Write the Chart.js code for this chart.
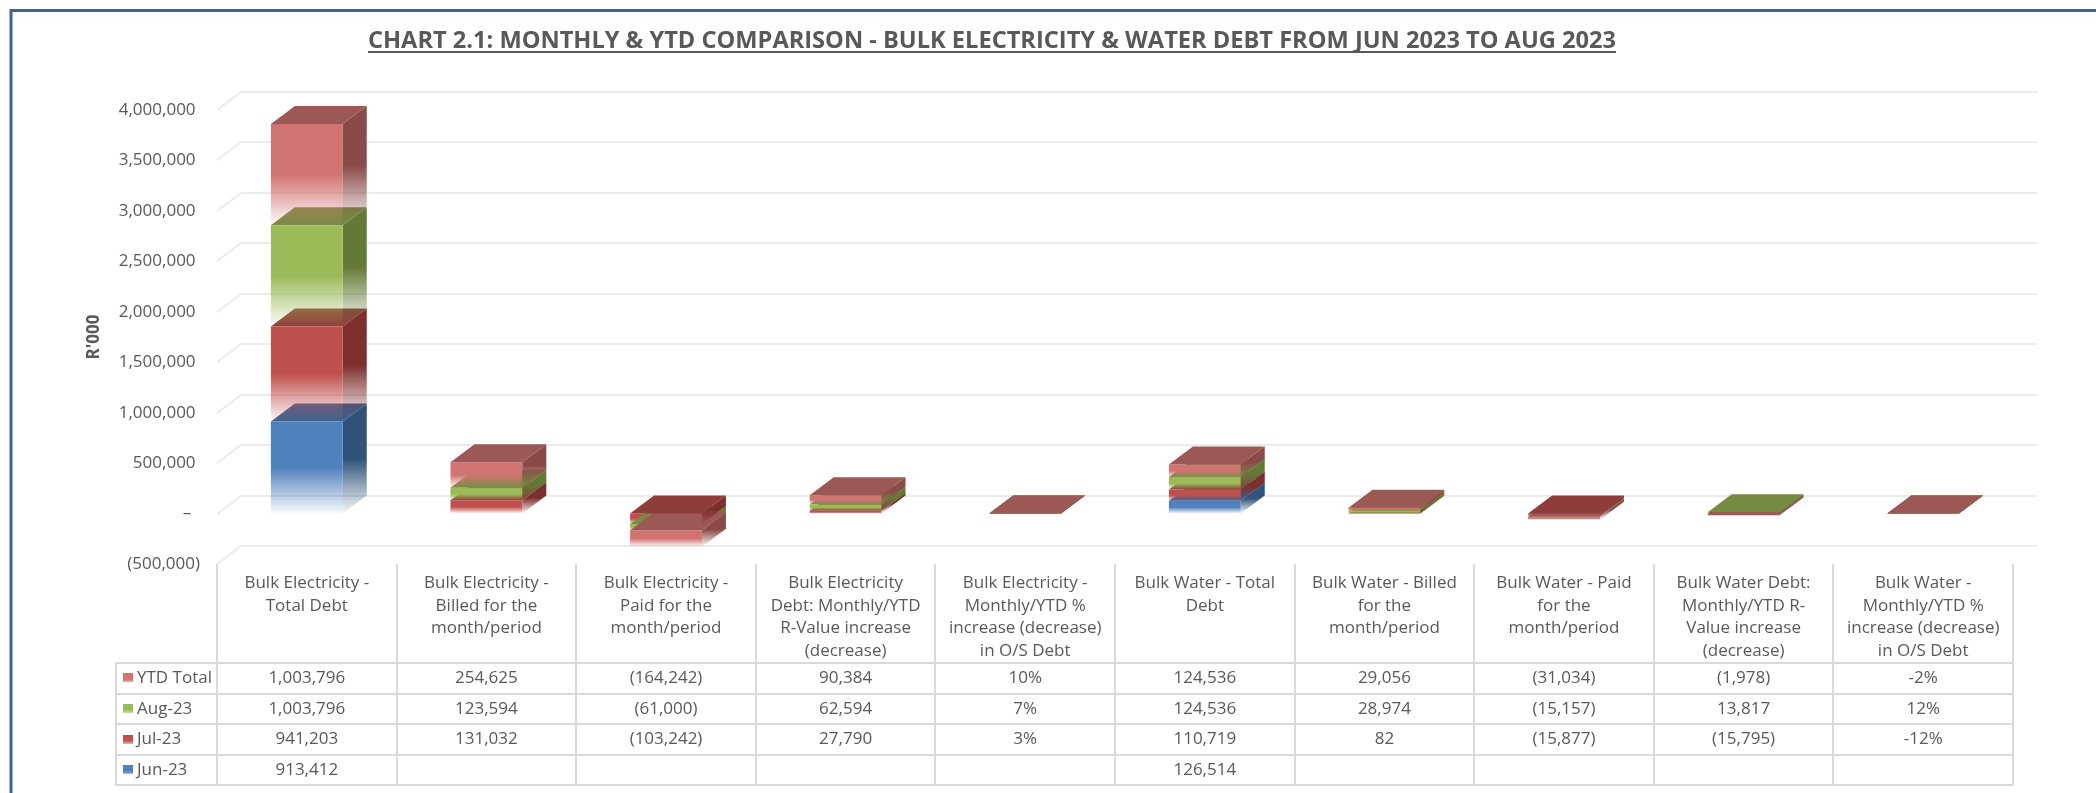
<!DOCTYPE html>
<html>
<head>
<meta charset="utf-8">
<title>Bulk Electricity &amp; Water Debt</title>
<script src="https://cdn.jsdelivr.net/npm/chart.js@4.4.0/dist/chart.umd.min.js"></script>
<style>
    html, body { margin: 0; padding: 0; background: #ffffff; }
    #wrap { position: relative; width: 2096px; height: 793px; }
</style>
</head>
<body>
<div id="wrap"><canvas id="debt_chart"></canvas></div>
<script>
const chart_title = "CHART 2.1: MONTHLY & YTD COMPARISON - BULK ELECTRICITY & WATER DEBT FROM JUN 2023 TO AUG 2023"
const axis_title = "R'000"

// category names, already wrapped the way the data table shows them
const categories = [
    ["Bulk Electricity -", "Total Debt"],
    ["Bulk Electricity -", "Billed for the", "month/period"],
    ["Bulk Electricity -", "Paid for the", "month/period"],
    ["Bulk Electricity", "Debt: Monthly/YTD", "R-Value increase", "(decrease)"],
    ["Bulk Electricity -", "Monthly/YTD %", "increase (decrease)", "in O/S Debt"],
    ["Bulk Water - Total", "Debt"],
    ["Bulk Water - Billed", "for the", "month/period"],
    ["Bulk Water - Paid", "for the", "month/period"],
    ["Bulk Water Debt:", "Monthly/YTD R-", "Value increase", "(decrease)"],
    ["Bulk Water -", "Monthly/YTD %", "increase (decrease)", "in O/S Debt"],
]
const percent_cols = [false, false, false, false, true, false, false, false, false, true]

const jun_23 = [913412, null, null, null, null, 126514, null, null, null, null]
const jul_23 = [941203, 131032, -103242, 27790, 0.03, 110719, 82, -15877, -15795, -0.12]
const aug_23 = [1003796, 123594, -61000, 62594, 0.07, 124536, 28974, -15157, 13817, 0.12]
const ytd_total = [1003796, 254625, -164242, 90384, 0.10, 124536, 29056, -31034, -1978, -0.02]

const y_ticks = [-500000, 0, 500000, 1000000, 1500000, 2000000, 2500000, 3000000, 3500000, 4000000]

// stacking order bottom -> top, colours for the front, side and top faces
const series = [
    { label: "Jun-23", values: jun_23, front: "#4f81bd", side: "#30537b", top: "#3d6392" },
    { label: "Jul-23", values: jul_23, front: "#c0504d", side: "#7d2f2d", top: "#8f3d3a" },
    { label: "Aug-23", values: aug_23, front: "#9bbb59", side: "#627a35", top: "#768c43" },
    { label: "YTD Total", values: ytd_total, front: "#d07471", side: "#8a4a47", top: "#9c5855" },
]

const DEPTH_X = 24
const DEPTH_Y = 18
const TEXT = "#595959"
const LINES = "#d9d9d9"
const FONT = "'Open Sans', 'Liberation Sans', sans-serif"

function rgba(hex, a) {
    const n = parseInt(hex.slice(1), 16)
    return `rgba(${(n >> 16) & 255}, ${(n >> 8) & 255}, ${n & 255}, ${a})`
}

// solid colour on the upper half, fading out toward the bottom edge
function fade(ctx, colour, y0, y1) {
    const g = ctx.createLinearGradient(0, y0, 0, y1)
    g.addColorStop(0, colour)
    g.addColorStop(0.5, colour)
    g.addColorStop(1, rgba(colour, 0.03))
    return g
}

// same stacking rule as the chart: positives and negatives pile up separately
function segment_range(di, i) {
    const v = series[di].values[i]
    let start = 0
    for (let k = 0; k < di; k++) {
        const w = series[k].values[i]
        if (w != null && (w < 0) === (v < 0)) start += w
    }
    return [start, start + v]
}

function fmt_axis(v) {
    if (v === 0) return "–  "
    const s = Math.abs(v).toLocaleString("en-US")
    return v < 0 ? "(" + s + ")" : s + " "
}

function fmt_cell(v, pct) {
    if (v == null) return ""
    if (pct) return Math.round(v * 100) + "%"
    const s = Math.abs(v).toLocaleString("en-US")
    return v < 0 ? "(" + s + ")" : s
}

// blocks of one column; "late" ones get their faces painted over the fronts
function column_blocks(chart, i) {
    const segs = []
    series.forEach((s, di) => {
        if (s.values[i] == null) return
        const bar = chart.getDatasetMeta(di).data[i]
        const half = bar.width / 2
        segs.push({
            s: s, di: di, neg: s.values[i] < 0,
            left: bar.x - half, right: bar.x + half,
            top: Math.min(bar.y, bar.base), bottom: Math.max(bar.y, bar.base),
        })
    })
    const highest = Math.min(...segs.map(g => Math.round(g.top)))
    segs.forEach(g => {
        g.highest = Math.round(g.top) === highest
        g.late = g.neg || g.highest
    })
    segs.sort((a, b) => (a.highest - b.highest) || a.di - b.di)
    return segs
}

function draw_faces(ctx, g) {
    if (g.bottom - g.top > 0.5) {
        ctx.fillStyle = fade(ctx, g.s.side, g.top - DEPTH_Y, g.bottom)
        ctx.beginPath()
        ctx.moveTo(g.right, g.top)
        ctx.lineTo(g.right + DEPTH_X, g.top - DEPTH_Y)
        ctx.lineTo(g.right + DEPTH_X, g.bottom - DEPTH_Y)
        ctx.lineTo(g.right, g.bottom)
        ctx.closePath()
        ctx.fill()
    }
    ctx.fillStyle = g.s.top
    ctx.beginPath()
    ctx.moveTo(g.left, g.top)
    ctx.lineTo(g.right, g.top)
    ctx.lineTo(g.right + DEPTH_X, g.top - DEPTH_Y)
    ctx.lineTo(g.left + DEPTH_X, g.top - DEPTH_Y)
    ctx.closePath()
    ctx.fill()
}

const depth_plugin = {
    id: "depth",
    beforeDraw(chart) {
        const ctx = chart.ctx
        ctx.save()
        ctx.fillStyle = "#ffffff"
        ctx.fillRect(0, 0, chart.width, chart.height)
        ctx.restore()
    },
    beforeDatasetsDraw(chart) {
        // back wall gridlines, with the short run across the left wall
        const ctx = chart.ctx
        const area = chart.chartArea
        const y = chart.scales.y
        ctx.save()
        ctx.strokeStyle = "#ebebeb"
        ctx.lineWidth = 2
        y.ticks.forEach(t => {
            const py = Math.round(y.getPixelForValue(t.value))
            ctx.beginPath()
            ctx.moveTo(area.left, py)
            ctx.lineTo(area.left + DEPTH_X, py - DEPTH_Y)
            ctx.lineTo(area.right + DEPTH_X, py - DEPTH_Y)
            ctx.stroke()
        })
        // lower blocks of positive stacks sit behind the faded fronts above them
        for (let i = 0; i < categories.length; i++) {
            column_blocks(chart, i).filter(g => !g.late).forEach(g => draw_faces(ctx, g))
        }
        ctx.restore()
    },
    afterDatasetsDraw(chart) {
        const ctx = chart.ctx
        ctx.save()
        for (let i = 0; i < categories.length; i++) {
            column_blocks(chart, i).filter(g => g.late).forEach(g => draw_faces(ctx, g))
        }
        ctx.restore()
    },
    afterDraw(chart) {
        const ctx = chart.ctx
        const area = chart.chartArea
        const x = chart.scales.x
        const col_w = x.getPixelForValue(1) - x.getPixelForValue(0)
        const table_top = Math.round(area.bottom)
        const header_bottom = table_top + 99
        const row_h = 30.6
        const legend_left = 116
        const rows = series.slice().reverse()
        const table_bottom = header_bottom + rows.length * row_h

        ctx.save()

        // data table grid
        ctx.strokeStyle = LINES
        ctx.lineWidth = 2
        for (let c = 0; c <= categories.length; c++) {
            const vx = Math.round(area.left + c * col_w)
            ctx.beginPath()
            ctx.moveTo(vx, table_top)
            ctx.lineTo(vx, table_bottom)
            ctx.stroke()
        }
        ctx.beginPath()
        ctx.moveTo(legend_left, header_bottom)
        ctx.lineTo(legend_left, table_bottom)
        ctx.stroke()
        for (let r = 0; r <= rows.length; r++) {
            const hy = Math.round(header_bottom + r * row_h)
            ctx.beginPath()
            ctx.moveTo(legend_left, hy)
            ctx.lineTo(Math.round(area.right), hy)
            ctx.stroke()
        }

        // column headings
        ctx.fillStyle = TEXT
        ctx.font = "17px " + FONT
        ctx.textAlign = "center"
        ctx.textBaseline = "middle"
        categories.forEach((lines, i) => {
            const cx = x.getPixelForValue(i)
            lines.forEach((line, k) => {
                ctx.fillText(line, cx, table_top + 19 + k * 22.7, col_w - 6)
            })
        })

        // one row per series: key, name, values
        rows.forEach((s, r) => {
            const cy = header_bottom + (r + 0.5) * row_h
            const key = ctx.createLinearGradient(0, cy - 5, 0, cy + 5)
            key.addColorStop(0, s.front)
            key.addColorStop(0.6, s.front)
            key.addColorStop(1, rgba(s.front, 0.35))
            ctx.fillStyle = key
            ctx.fillRect(123, Math.round(cy - 5), 10, 9)

            ctx.fillStyle = TEXT
            ctx.textAlign = "left"
            ctx.fillText(s.label, 137, cy)
            ctx.textAlign = "center"
            s.values.forEach((v, i) => {
                ctx.fillText(fmt_cell(v, percent_cols[i]), x.getPixelForValue(i), cy)
            })
        })

        // underlined heading
        ctx.font = "bold 24px " + FONT
        ctx.textAlign = "center"
        ctx.textBaseline = "alphabetic"
        const title_x = 992
        const title_w = Math.min(ctx.measureText(chart_title).width, 1248)
        ctx.fillText(chart_title, title_x, 48, 1248)
        ctx.strokeStyle = TEXT
        ctx.lineWidth = 2
        ctx.beginPath()
        ctx.moveTo(title_x - title_w / 2, 52)
        ctx.lineTo(title_x + title_w / 2, 52)
        ctx.stroke()

        // frame of the chart object
        ctx.strokeStyle = "#3b6596"
        ctx.lineWidth = 3
        ctx.beginPath()
        ctx.moveTo(11, chart.height)
        ctx.lineTo(11, 10.5)
        ctx.lineTo(chart.width, 10.5)
        ctx.stroke()

        ctx.restore()
    }
}

const datasets = series.map((s, di) => ({
    label: s.label,
    data: s.values,
    backgroundColor: c => {
        if (c.type !== "data" || s.values[c.dataIndex] == null) return s.front
        const y = c.chart.scales.y
        const [a, b] = segment_range(di, c.dataIndex)
        const top = y.getPixelForValue(Math.max(a, b))
        const bottom = y.getPixelForValue(Math.min(a, b))
        if (!isFinite(top) || !isFinite(bottom) || bottom - top < 1) return s.front
        return fade(c.chart.ctx, s.front, top, bottom)
    },
    borderWidth: 0,
    inflateAmount: 0,
    barPercentage: 0.4,
    categoryPercentage: 1,
}))

new Chart(document.getElementById("debt_chart"), {
    type: "bar",
    data: {
        labels: categories.map(c => c.join(" ")),
        datasets: datasets,
    },
    options: {
        responsive: true,
        maintainAspectRatio: false,
        animation: false,
        layout: {
            padding: { left: 80, right: 83, top: 110, bottom: 229 }
        },
        plugins: {
            legend: { display: false },
            title: { display: false },
            tooltip: { enabled: false },
        },
        scales: {
            x: {
                stacked: true,
                display: false,
            },
            y: {
                stacked: true,
                min: y_ticks[0],
                max: y_ticks[y_ticks.length - 1],
                afterBuildTicks: scale => {
                    scale.ticks = y_ticks.map(v => ({ value: v }))
                },
                afterFit: scale => {
                    scale.width = 137
                    scale.paddingTop = 0
                    scale.paddingBottom = 0
                },
                grid: { display: false },
                border: { display: false },
                ticks: {
                    padding: 9,
                    color: TEXT,
                    font: { family: "Open Sans", size: 17 },
                    callback: v => fmt_axis(v),
                },
                title: {
                    display: true,
                    text: axis_title,
                    color: TEXT,
                    font: { family: "Open Sans", size: 17, weight: "bold" },
                },
            },
        },
    },
    plugins: [depth_plugin],
})
</script>
</body>
</html>
